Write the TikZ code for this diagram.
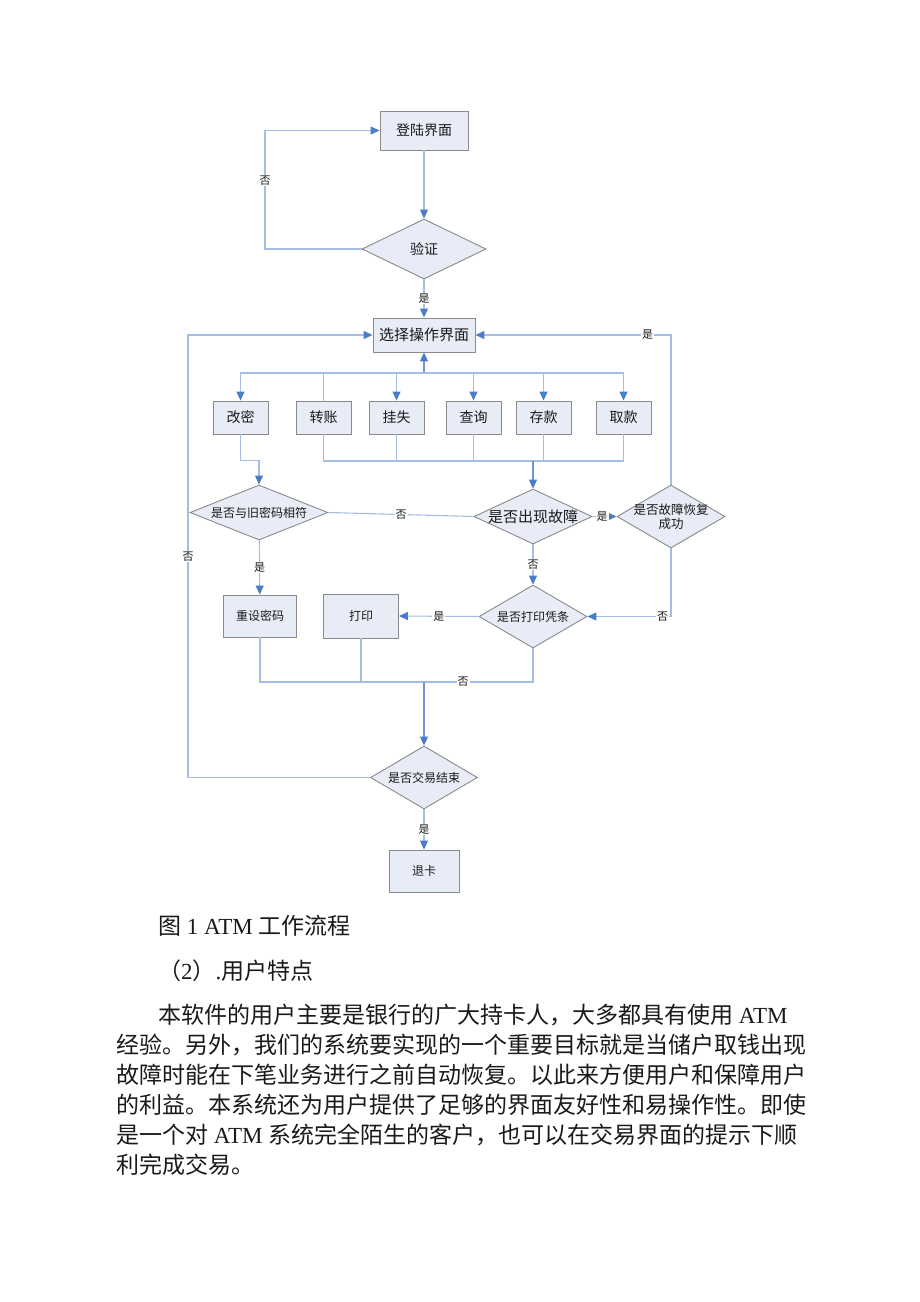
\documentclass[tikz,border=0pt]{standalone}
\usepackage{fontspec}
\setmainfont{Liberation Serif}
\newfontfamily\cjk{Noto Sans CJK SC}
\usetikzlibrary{arrows.meta,shapes.geometric}
\definecolor{boxfill}{HTML}{E7ECF6}
\definecolor{boxline}{HTML}{8A8A8A}
\definecolor{flow}{HTML}{A6BEE3}
\definecolor{flowdark}{HTML}{6F95D2}
\definecolor{tip}{HTML}{4A7CC9}
\definecolor{ink}{HTML}{1A1A1A}

\begin{document}
\begin{tikzpicture}[x=1pt,y=-1pt,
  f11/.style={font=\cjk\fontsize{11}{13}\selectfont},
  f12/.style={font=\cjk\fontsize{12}{14}\selectfont},
  f14/.style={font=\cjk\fontsize{14}{17}\selectfont},
  f15/.style={font=\cjk\fontsize{15}{18}\selectfont},
  box/.style={draw=boxline,fill=boxfill,line width=0.9pt,inner sep=0pt,text=ink},
  dec/.style={diamond,draw=boxline,fill=boxfill,line width=0.9pt,inner sep=0pt},
  dtxt/.style={text=ink,align=center,inner sep=0pt},
  flowline/.style={draw=flow,line width=1.1pt},
  flowarrow/.style={flowline,-{Triangle[length=9pt,width=8pt,color=tip]}},
  lbl/.style={f11,fill=white,inner sep=1pt,text=ink},
  body/.style={anchor=west,inner sep=0pt,text=ink,font=\fontsize{23}{30}\selectfont}]
  \fill[white] (0,0) rectangle (920,1302);
  \useasboundingbox (0,0) rectangle (920,1302);

  % login and check
  \node[box,f14,minimum width=88,minimum height=39] (login) at (424,130.5) {登陆界面};
  \node[dec,minimum width=124,minimum height=60,label={[dtxt,f14]center:验证}] (check) at (424,249) {};
  \node[box,f15,minimum width=102,minimum height=34] (menu) at (424,335) {选择操作界面};

  % operations
  \node[box,f14,minimum width=55,minimum height=33] (chpwd) at (240.5,417.5) {改密};
  \node[box,f14,minimum width=55,minimum height=33] (transfer) at (323.5,417.5) {转账};
  \node[box,f14,minimum width=55,minimum height=33] (lost) at (396.5,417.5) {挂失};
  \node[box,f14,minimum width=55,minimum height=33] (query) at (473.5,417.5) {查询};
  \node[box,f14,minimum width=55,minimum height=33] (deposit) at (543.5,417.5) {存款};
  \node[box,f14,minimum width=55,minimum height=33] (withdraw) at (623.5,417.5) {取款};

  % decisions
  \node[dec,minimum width=138,minimum height=55,label={[dtxt,f12]center:是否与旧密码相符}] (oldpwd) at (259,512.5) {};
  \node[dec,minimum width=118,minimum height=55,label={[dtxt,f15]center:是否出现故障}] (fault) at (533,516.5) {};
  \node[dec,minimum width=108,minimum height=63,label={[dtxt,font=\cjk\fontsize{12.5}{14}\selectfont]center:是否故障恢复\\成功}] (recover) at (671,516.5) {};
  \node[dec,minimum width=108,minimum height=63,label={[dtxt,f12]center:是否打印凭条}] (voucher) at (533,616.5) {};
  \node[box,f12,minimum width=73,minimum height=42] (resetpwd) at (260,616) {重设密码};
  \node[box,f12,minimum width=75,minimum height=44] (print) at (361,616) {打印};
  \node[dec,minimum width=107,minimum height=63,label={[dtxt,f12]center:是否交易结束}] (finish) at (424,777.5) {};
  \node[box,f12,minimum width=70,minimum height=42] (eject) at (424,871) {退卡};

  % connectors
  \draw[flowarrow] (login) -- (check);
  \coordinate (noback) at (265,249);
  \draw[flowarrow] (check.west) -- (noback) |- node[lbl,pos=0.29]{否} (login.west);
  \draw[flowarrow] (check) -- node[lbl]{是} (menu);

  \coordinate (fork) at (424,373);
  \draw[flowarrow,draw=flowdark] (fork) -- (menu);
  \draw[flowarrow] (fork) -| (chpwd);
  \draw[flowline] (transfer) |- (fork);
  \draw[flowarrow] (fork) -| (lost);
  \draw[flowarrow] (fork) -| (query);
  \draw[flowarrow] (fork) -| (deposit);
  \draw[flowarrow] (fork) -| (withdraw);

  \coordinate (join) at (533,461);
  \draw[flowline] (transfer) |- (join);
  \draw[flowline] (lost) |- (join);
  \draw[flowline] (query) |- (join);
  \draw[flowline] (deposit) |- (join);
  \draw[flowline] (withdraw) |- (join);
  \draw[flowarrow,draw=flowdark] (join) -- (fault);
  \draw[flowarrow] (chpwd.south) -- ++(0,26) -| (oldpwd);

  \draw[flowline] (oldpwd.east) -- node[lbl]{否} (fault.west);
  \draw[flowarrow] (fault.east) -- node[lbl,pos=0.4]{是} (recover.west);
  \draw[flowarrow] (recover.north) |- node[lbl,pos=0.56]{是} (menu.east);
  \draw[flowarrow] (recover.south) |- node[lbl,pos=0.55]{否} (voucher.east);
  \draw[flowarrow] (fault) -- node[lbl]{否} (voucher);
  \draw[flowarrow] (voucher.west) -- node[lbl]{是} (print.east);
  \draw[flowarrow] (oldpwd) -- node[lbl]{是} (resetpwd);

  \coordinate (merge) at (424,682);
  \draw[flowline] (resetpwd) |- (merge);
  \draw[flowline] (print) |- (merge);
  \draw[flowline] (voucher.south) |- node[lbl,pos=0.82]{否} (merge);
  \draw[flowarrow,draw=flowdark] (merge) -- (finish);
  \coordinate (loopback) at (188,777.5);
  \draw[flowarrow] (finish.west) -- (loopback) |- node[lbl,pos=0.25]{否} (menu.west);
  \draw[flowarrow] (finish) -- node[lbl]{是} (eject);

  % text below
  \node[body] (caption) at (158,926) {{\cjk 图} 1 ATM {\cjk 工作流程}};
  \node[body] (subhead) at (158,971) {{\cjk （}2{\cjk ）}.{\cjk 用户特点}};
  \node[body] (line1) at (158,1015) {{\cjk 本软件的用户主要是银行的广大持卡人，大多都具有使用} ATM};
  \node[body] (line2) at (116,1045) {\cjk 经验。另外，我们的系统要实现的一个重要目标就是当储户取钱出现};
  \node[body] (line3) at (116,1075) {\cjk 故障时能在下笔业务进行之前自动恢复。以此来方便用户和保障用户};
  \node[body] (line4) at (116,1105) {\cjk 的利益。本系统还为用户提供了足够的界面友好性和易操作性。即使};
  \node[body] (line5) at (116,1135) {{\cjk 是一个对} ATM {\cjk 系统完全陌生的客户，也可以在交易界面的提示下顺}};
  \node[body] (line6) at (116,1165) {\cjk 利完成交易。};
\end{tikzpicture}
\end{document}
